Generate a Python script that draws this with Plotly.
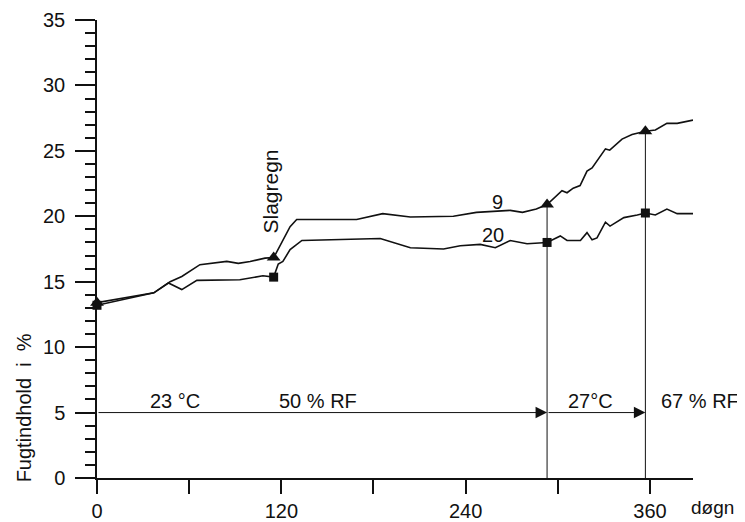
import plotly.graph_objects as go

# ---- data ----
days_9 = [0, 37, 47.6, 55.2, 67, 73.6, 84.5, 92, 99.7, 109.4, 115, 116, 125.7, 130, 145, 169,
          186, 204, 232, 247, 269, 277, 286, 293, 302.7, 306, 310, 314.5, 319, 322.3,
          331, 333.8, 341.8, 348.3, 357, 363.5, 371, 377.7, 388]
moist_9 = [13.4, 14.15, 15.0, 15.4, 16.3, 16.4, 16.55, 16.4, 16.55, 16.8, 16.85, 17.05, 19.2, 19.75, 19.75, 19.75,
           20.2, 19.95, 20.0, 20.3, 20.45, 20.3, 20.55, 20.9, 21.95, 21.8, 22.15, 22.35, 23.45, 23.7,
           25.15, 25.05, 25.9, 26.25, 26.5, 26.6, 27.1, 27.1, 27.35]

days_20 = [0, 37, 46.5, 55.2, 65, 93, 108, 115, 118, 121, 125.7, 133.4, 184.4, 204, 225.6, 236.5,
           249.5, 259.3, 269, 275.6, 280, 293, 301.6, 306, 314.7, 319, 322.3, 325.5, 331, 334,
           343, 351.7, 357, 363.5, 371, 377.7, 388]
moist_20 = [13.2, 14.15, 14.9, 14.4, 15.1, 15.15, 15.45, 15.35, 16.35, 16.55, 17.45, 18.15, 18.3, 17.6, 17.5, 17.75,
            17.85, 17.6, 18.15, 18.0, 17.9, 18.0, 18.5, 18.15, 18.15, 18.75, 18.2, 18.35, 19.55, 19.25,
            19.9, 20.1, 20.25, 20.1, 20.55, 20.2, 20.2]

marked_days = [0, 115, 293, 357]
marked_9 = [13.4, 16.85, 20.9, 26.5]
marked_20 = [13.2, 15.35, 18.0, 20.25]

climate_change_days = [293, 357]     # vertical lines / arrow ends
climate_level = 5                      # horizontal arrow line level

x_tick_vals = [0, 120, 240, 360]
x_tick_text = ["0", "120", "240", "360"]
y_tick_vals = [0, 5, 10, 15, 20, 25, 30, 35]

FONT = "Liberation Sans, Arial, Helvetica, sans-serif"
BLACK = "#111111"

fig = go.Figure()

# vertical lines at the climate change days, up to series 9 point
for d in climate_change_days:
    idx = marked_days.index(d)
    fig.add_trace(go.Scatter(x=[d, d], y=[0, marked_9[idx]], mode="lines",
                             line=dict(color=BLACK, width=1), hoverinfo="skip",
                             showlegend=False))

# curves
fig.add_trace(go.Scatter(x=days_9, y=moist_9, mode="lines",
                         line=dict(color=BLACK, width=1.6), showlegend=False))
fig.add_trace(go.Scatter(x=days_20, y=moist_20, mode="lines",
                         line=dict(color=BLACK, width=1.6), showlegend=False))

# markers
fig.add_trace(go.Scatter(x=marked_days, y=marked_9, mode="markers",
                         marker=dict(symbol="triangle-up", size=12, color=BLACK),
                         cliponaxis=False, showlegend=False))
fig.add_trace(go.Scatter(x=marked_days, y=marked_20, mode="markers",
                         marker=dict(symbol="square", size=9, color=BLACK),
                         cliponaxis=False, showlegend=False))

annotations = []
# arrows along y=5
starts = [0] + climate_change_days[:-1]
for s, e in zip(starts, climate_change_days):
    annotations.append(dict(x=e, y=climate_level, ax=s, ay=climate_level,
                            xref="x", yref="y", axref="x", ayref="y",
                            text="", showarrow=True, arrowhead=2, arrowsize=2.3,
                            arrowwidth=1, arrowcolor=BLACK, standoff=0))

tf = dict(family=FONT, size=20, color=BLACK)
C = dict(xanchor="center", yanchor="middle", showarrow=False, font=tf)
annotations += [
    dict(x=51, y=5.9, xref="x", yref="y", text="23 °C", **C),
    dict(x=144, y=5.9, xref="x", yref="y", text="50 % RF", **C),
    dict(x=321, y=5.9, xref="x", yref="y", text="27°C", **C),
    dict(x=1.0124, y=5.9, xref="paper", yref="y", text="67 % RF", **C),
    dict(x=261, y=21.1, xref="x", yref="y", text="9", **C),
    dict(x=258, y=18.6, xref="x", yref="y", text="20", **C),
    dict(x=112.7, y=21.9, xref="x", yref="y", text="Slagregn", textangle=-90,
         xanchor="center", yanchor="middle", showarrow=False,
         font=dict(family=FONT, size=21, color=BLACK)),
    dict(x=-0.121, y=0.154, xref="paper", yref="paper", text="Fugtindhold  i  %",
         textangle=-90, **C),
    dict(x=1.033, y=-0.064, xref="paper", yref="paper", text="døgn",
         xanchor="center", yanchor="middle", showarrow=False,
         font=dict(family=FONT, size=19, color=BLACK)),
]

# the page body has an 8px margin; the figure is sized to fill the rest of the window
fig.update_layout(
    template="none",
    width=737, height=514,
    margin=dict(l=89, r=52, t=12, b=44, pad=0, autoexpand=False),
    paper_bgcolor="white", plot_bgcolor="white",
    showlegend=False,
    font=dict(family=FONT, size=20, color=BLACK),
    annotations=annotations,
    xaxis=dict(range=[0, 388], showgrid=False, zeroline=False, automargin=False,
               showline=True, linecolor=BLACK, linewidth=1.5,
               ticks="outside", ticklen=14, tickwidth=1.5, tickcolor=BLACK,
               tickvals=x_tick_vals, ticktext=x_tick_text,
               minor=dict(dtick=60, tick0=0, ticks="outside", ticklen=14,
                          tickwidth=1.5, tickcolor=BLACK, showgrid=False),
               tickfont=dict(family=FONT, size=20, color=BLACK)),
    yaxis=dict(range=[0, 35], showgrid=False, zeroline=False, automargin=False,
               showline=True, linecolor=BLACK, linewidth=1.5,
               ticks="outside", ticklen=20, tickwidth=1.5, tickcolor=BLACK,
               tickvals=y_tick_vals, ticklabelstandoff=6,
               minor=dict(dtick=1, tick0=0, ticks="outside", ticklen=10,
                          tickwidth=1.5, tickcolor=BLACK, showgrid=False),
               tickfont=dict(family=FONT, size=20, color=BLACK)),
)

fig.write_html("out.html")
